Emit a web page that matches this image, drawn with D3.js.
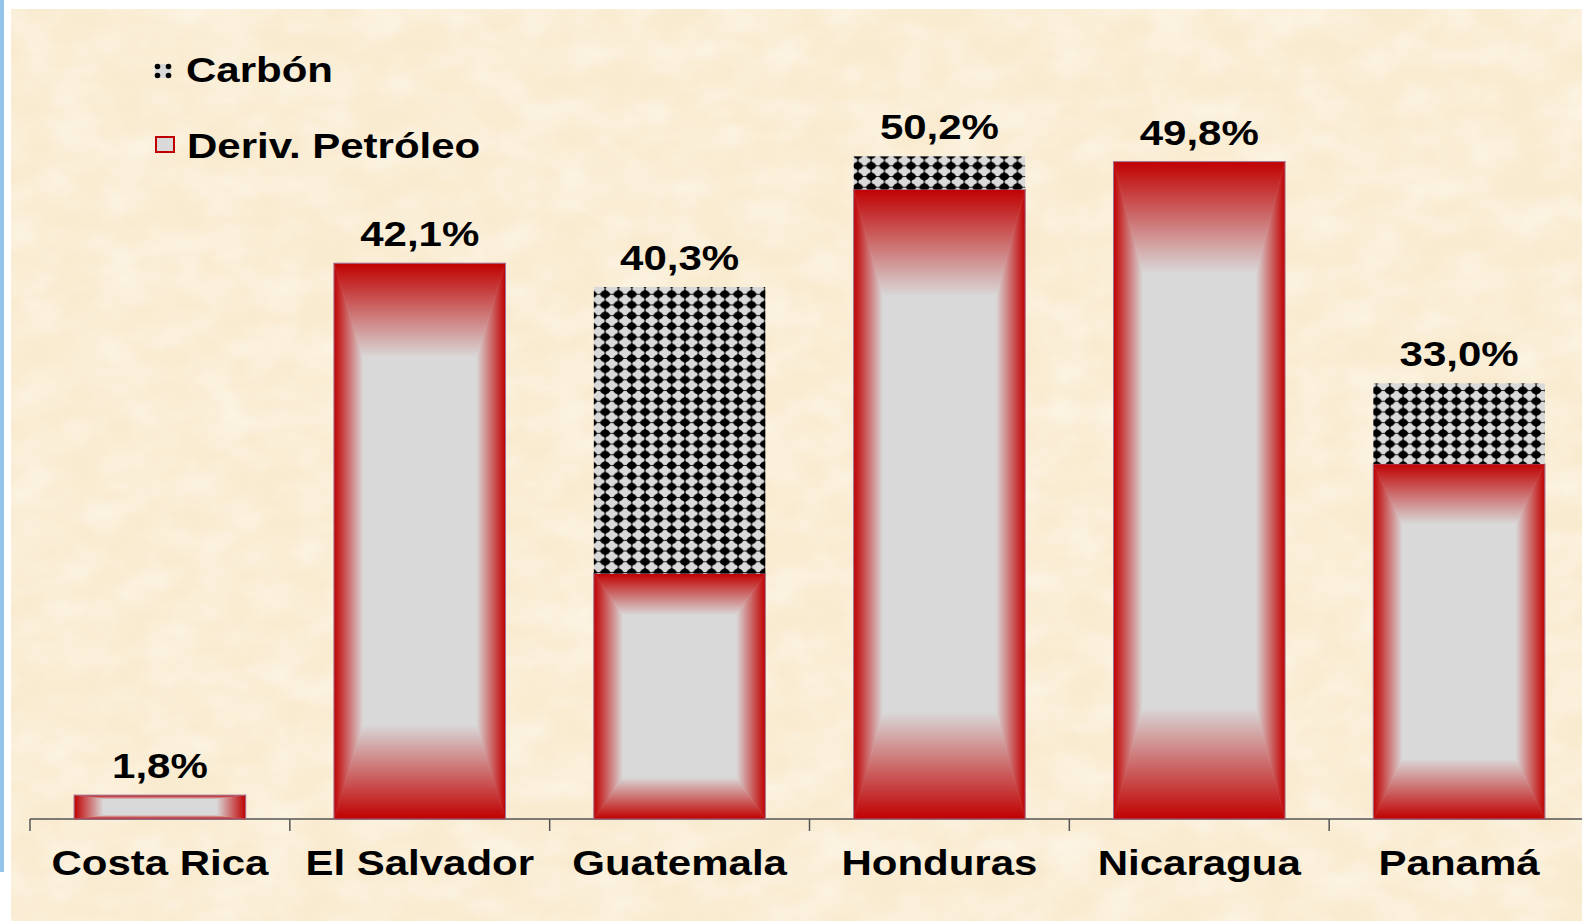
<!DOCTYPE html>
<html>
<head>
<meta charset="utf-8">
<script src="https://cdn.jsdelivr.net/npm/d3@7"></script>
<style>
  html, body { margin: 0; padding: 0; background: #ffffff; }
  svg { display: block; }
  text { font-family: "Liberation Sans", Arial, sans-serif; font-weight: bold; fill: #000; }
</style>
</head>
<body>
<svg id="chart" width="1582" height="921"></svg>
<script>
// ---- data ----
const categories = ["Costa Rica", "El Salvador", "Guatemala", "Honduras", "Nicaragua", "Panamá"];
const derivPetroleo = [1.8, 42.1, 18.6, 47.7, 49.8, 26.9];
const carbon = [0, 0, 21.7, 2.5, 0, 6.1];
const seriesNames = ["Carbón", "Deriv. Petróleo"];

// ---- setup ----
const W = 1582, H = 921;
const svg = d3.select("#chart");
const defs = svg.append("defs");

const RED = "#c00000", GRAY = "#d9d9d9";
function grad(id, x2, y2, c1, c2) {
  const g = defs.append("linearGradient").attr("id", id)
    .attr("x1", 0).attr("y1", 0).attr("x2", x2).attr("y2", y2);
  g.append("stop").attr("offset", 0).attr("stop-color", c1);
  g.append("stop").attr("offset", 1).attr("stop-color", c2);
}
grad("gTop", 0, 1, RED, GRAY);
grad("gBottom", 0, 1, GRAY, RED);
grad("gLeft", 1, 0, RED, GRAY);
grad("gRight", 1, 0, GRAY, RED);

// carbon pattern
const pw = 13.3, ph = 10.7;
const pat = defs.append("pattern").attr("id", "carbonPat")
  .attr("patternUnits", "userSpaceOnUse").attr("width", pw).attr("height", ph);
pat.append("rect").attr("width", pw).attr("height", ph).attr("fill", GRAY);
pat.append("line").attr("x1", 0).attr("x2", pw).attr("y1", ph / 2).attr("y2", ph / 2)
  .attr("stroke", "#222").attr("stroke-width", 1.1).attr("stroke-dasharray", "1.2,1.2");
pat.append("line").attr("y1", 0).attr("y2", ph).attr("x1", pw / 2).attr("x2", pw / 2)
  .attr("stroke", "#222").attr("stroke-width", 1.1).attr("stroke-dasharray", "1.2,1.2");
pat.append("ellipse").attr("cx", pw / 2).attr("cy", ph / 2).attr("rx", 4.7).attr("ry", 3.8).attr("fill", "#000");
pat.append("path")
  .attr("d", `M${pw/2-6},${ph/2} L${pw/2-2},${ph/2-2.6} L${pw/2},${ph/2-5} L${pw/2+2},${ph/2-2.6} L${pw/2+6},${ph/2} L${pw/2+2},${ph/2+2.6} L${pw/2},${ph/2+5} L${pw/2-2},${ph/2+2.6} Z`)
  .attr("fill", "#000");

// background texture
const filt = defs.append("filter").attr("id", "paper").attr("x", 0).attr("y", 0).attr("width", 1).attr("height", 1);
filt.append("feTurbulence").attr("type", "fractalNoise").attr("baseFrequency", "0.02 0.03")
  .attr("numOctaves", 3).attr("seed", 7).attr("result", "n");
filt.append("feColorMatrix").attr("in", "n").attr("type", "matrix")
  .attr("values", "0 0 0 0 1  0 0 0 0 0.98  0 0 0 0 0.94  0 0 0 -1.4 0.95");

// blue left strip and paper background
svg.append("rect").attr("x", 0).attr("y", 0).attr("width", 4).attr("height", 872).attr("fill", "#93c4ea");
svg.append("rect").attr("x", 11).attr("y", 9).attr("width", W - 11).attr("height", H - 9).attr("fill", "#f9ebd0");
svg.append("rect").attr("x", 11).attr("y", 9).attr("width", W - 11).attr("height", H - 9)
  .attr("fill", "#fff").attr("filter", "url(#paper)").attr("opacity", 0.6);

// ---- scales ----
const x = d3.scaleBand().domain(categories).range([30, 1589]).paddingInner(0.34).paddingOuter(0.17);
const y = d3.scaleLinear().domain([0, 60]).range([819, 27]);
const step = x.step();
const bw = x.bandwidth();

const data = categories.map((c, i) => ({ cat: c, p: derivPetroleo[i], c: carbon[i] }));
const fmt = v => d3.format(".1f")(v).replace(".", ",") + "%";

// ---- axis ----
const axisG = svg.append("g");
axisG.append("line").attr("x1", 30).attr("x2", W).attr("y1", y(0)).attr("y2", y(0))
  .attr("stroke", "#555").attr("stroke-width", 1.5);
axisG.selectAll("line.tick").data(categories.concat(["_end"])).join("line").attr("class", "tick")
  .attr("x1", (d, i) => 30 + i * step).attr("x2", (d, i) => 30 + i * step)
  .attr("y1", y(0)).attr("y2", y(0) + 12).attr("stroke", "#555").attr("stroke-width", 1.5);

// ---- bars ----
const F = 0.17;
const bars = svg.append("g");
data.forEach(d => {
  const x0 = x(d.cat), w = bw;
  const y0 = y(d.p), y1 = y(0), h = y1 - y0;
  const fw = F * w, fh = F * h;
  const g = bars.append("g");
  g.append("rect").attr("x", x0).attr("y", y0).attr("width", w).attr("height", h).attr("fill", GRAY);
  const polys = [
    { id: "gTop", pts: [[x0, y0], [x0 + w, y0], [x0 + w - fw, y0 + fh], [x0 + fw, y0 + fh]] },
    { id: "gBottom", pts: [[x0 + fw, y1 - fh], [x0 + w - fw, y1 - fh], [x0 + w, y1], [x0, y1]] },
    { id: "gLeft", pts: [[x0, y0], [x0 + fw, y0 + fh], [x0 + fw, y1 - fh], [x0, y1]] },
    { id: "gRight", pts: [[x0 + w - fw, y0 + fh], [x0 + w, y0], [x0 + w, y1], [x0 + w - fw, y1 - fh]] }
  ];
  polys.forEach(pp => {
    g.append("polygon").attr("points", pp.pts.map(p => p.join(",")).join(" "))
      .attr("fill", `url(#${pp.id})`).attr("stroke", `url(#${pp.id})`).attr("stroke-width", 0.6);
  });
  g.append("rect").attr("x", x0).attr("y", y0).attr("width", w).attr("height", h)
    .attr("fill", "none").attr("stroke", "#8d96c4").attr("stroke-width", 1).attr("stroke-opacity", 0.7);

  if (d.c > 0) {
    const yc = y(d.p + d.c);
    bars.append("rect").attr("x", x0).attr("y", yc).attr("width", w).attr("height", y0 - yc)
      .attr("fill", "url(#carbonPat)");
  }
});

// ---- value labels ----
const SX = 1.2;
data.forEach(d => {
  const tot = d.p + d.c;
  svg.append("text").attr("text-anchor", "middle").attr("font-size", 35)
    .attr("transform", `translate(${x(d.cat) + bw / 2},${y(tot) - 17}) scale(${SX},1)`)
    .text(fmt(tot));
});

// ---- category labels ----
categories.forEach(c => {
  svg.append("text").attr("text-anchor", "middle").attr("font-size", 35)
    .attr("transform", `translate(${x(c) + bw / 2},875) scale(${SX},1)`)
    .text(c);
});

// ---- legend ----
const lg = svg.append("g");
// Carbón swatch
lg.append("rect").attr("x", 155).attr("y", 64).attr("width", 16).attr("height", 14).attr("fill", GRAY);
[[157.5, 66.5], [168.5, 66.5], [157.5, 75.5], [168.5, 75.5]].forEach(p => {
  lg.append("circle").attr("cx", p[0]).attr("cy", p[1]).attr("r", 2.8).attr("fill", "#000");
});
lg.append("text").attr("font-size", 35).attr("transform", `translate(186,82) scale(${SX},1)`).text(seriesNames[0]);
// Deriv swatch
lg.append("rect").attr("x", 156).attr("y", 137).attr("width", 18).attr("height", 15)
  .attr("fill", GRAY).attr("stroke", RED).attr("stroke-width", 2);
lg.append("text").attr("font-size", 35).attr("transform", `translate(187,158) scale(${SX},1)`).text(seriesNames[1]);
</script>
</body>
</html>
